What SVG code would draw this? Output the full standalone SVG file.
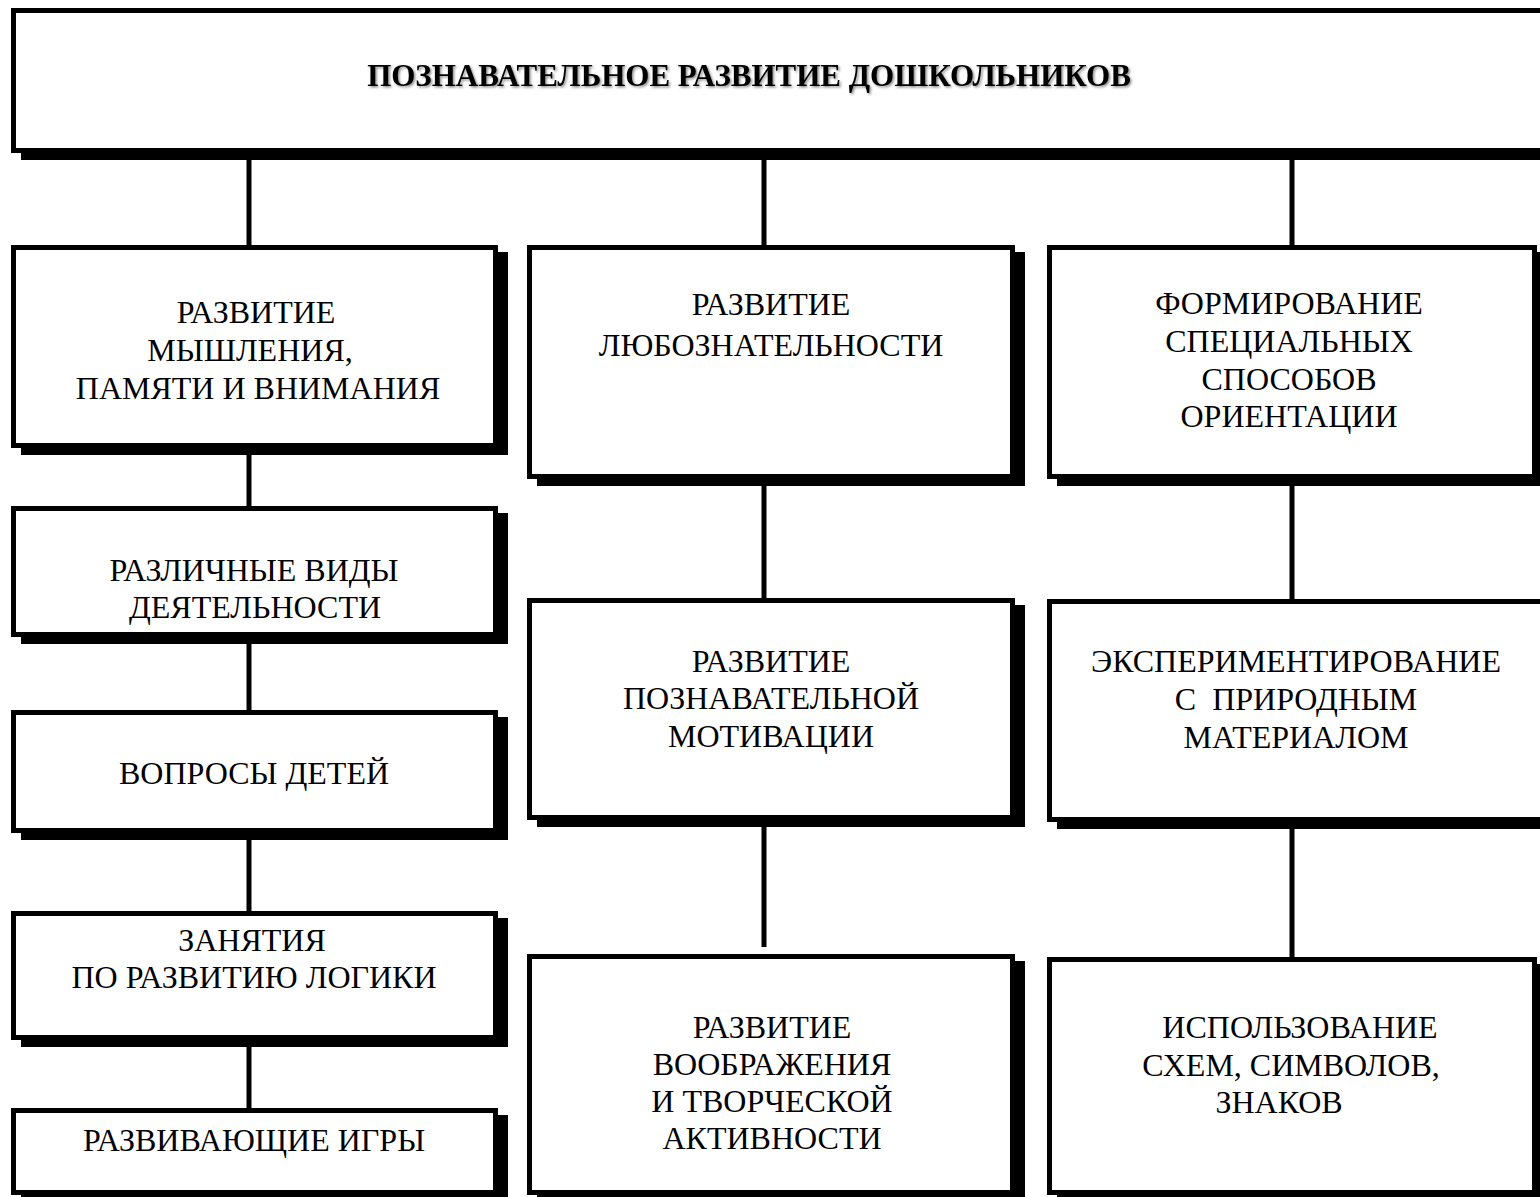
<svg xmlns="http://www.w3.org/2000/svg" width="1540" height="1197" viewBox="0 0 1540 1197">
<defs>
<filter id="tsh" x="-5%" y="-30%" width="110%" height="160%">
<feDropShadow dx="1.5" dy="1.5" stdDeviation="0.8" flood-color="#000" flood-opacity="0.45"/>
</filter>
</defs>
<style>
.sh{fill:#000}
.bx{fill:#fff;stroke:#000;stroke-width:5}
.t{font-family:"Liberation Serif","Times New Roman",serif;font-size:32px;text-anchor:middle;fill:#000}
.ti{font-family:"Liberation Serif","Times New Roman",serif;font-size:31px;font-weight:bold;text-anchor:middle;fill:#000}
.c{stroke:#000;stroke-width:5;fill:none}
</style>
<rect width="1540" height="1197" fill="#fff"/>
<g id="connectors">
<line class="c" x1="249" y1="153" x2="249" y2="245"/>
<line class="c" x1="764" y1="153" x2="764" y2="245"/>
<line class="c" x1="1292" y1="153" x2="1292" y2="245"/>
<line class="c" x1="249" y1="448" x2="249" y2="506"/>
<line class="c" x1="249" y1="637" x2="249" y2="710"/>
<line class="c" x1="249" y1="833" x2="249" y2="911"/>
<line class="c" x1="249" y1="1040" x2="249" y2="1108"/>
<line class="c" x1="764" y1="479" x2="764" y2="598"/>
<line class="c" x1="764" y1="820" x2="764" y2="947"/>
<line class="c" x1="1292" y1="479" x2="1292" y2="599"/>
<line class="c" x1="1292" y1="822" x2="1292" y2="957"/>
</g>
<g id="root">
<rect class="sh" x="21" y="15" width="1540" height="145"/>
<rect class="bx" x="13.5" y="10.5" width="1535" height="140"/>
<text class="ti" x="749" y="86" filter="url(#tsh)">ПОЗНАВАТЕЛЬНОЕ РАЗВИТИЕ ДОШКОЛЬНИКОВ</text>
</g>
<g id="l1">
<rect class="sh" x="21" y="252" width="487" height="203"/>
<rect class="bx" x="13.5" y="247.5" width="482" height="198"/>
<text class="t" x="256" y="323">РАЗВИТИЕ</text>
<text class="t" x="250" y="361">МЫШЛЕНИЯ,</text>
<text class="t" x="258" y="399">ПАМЯТИ И ВНИМАНИЯ</text>
</g>
<g id="l2">
<rect class="sh" x="21" y="513" width="487" height="131"/>
<rect class="bx" x="13.5" y="508.5" width="482" height="126"/>
<text class="t" x="254" y="581">РАЗЛИЧНЫЕ ВИДЫ</text>
<text class="t" x="255" y="618">ДЕЯТЕЛЬНОСТИ</text>
</g>
<g id="l3">
<rect class="sh" x="21" y="717" width="487" height="123"/>
<rect class="bx" x="13.5" y="712.5" width="482" height="118"/>
<text class="t" x="254" y="784">ВОПРОСЫ ДЕТЕЙ</text>
</g>
<g id="l4">
<rect class="sh" x="21" y="918" width="487" height="129"/>
<rect class="bx" x="13.5" y="913.5" width="482" height="124"/>
<text class="t" x="252" y="951">ЗАНЯТИЯ</text>
<text class="t" x="254" y="988">ПО РАЗВИТИЮ ЛОГИКИ</text>
</g>
<g id="l5">
<rect class="sh" x="21" y="1115" width="487" height="87"/>
<rect class="bx" x="13.5" y="1110.5" width="482" height="82"/>
<text class="t" x="254" y="1151">РАЗВИВАЮЩИЕ ИГРЫ</text>
</g>
<g id="m1">
<rect class="sh" x="537" y="252" width="488" height="234"/>
<rect class="bx" x="529.5" y="247.5" width="483" height="229"/>
<text class="t" x="771" y="315">РАЗВИТИЕ</text>
<text class="t" x="771" y="356">ЛЮБОЗНАТЕЛЬНОСТИ</text>
</g>
<g id="m2">
<rect class="sh" x="537" y="605" width="488" height="222"/>
<rect class="bx" x="529.5" y="600.5" width="483" height="217"/>
<text class="t" x="771" y="672">РАЗВИТИЕ</text>
<text class="t" x="771" y="709">ПОЗНАВАТЕЛЬНОЙ</text>
<text class="t" x="771" y="747">МОТИВАЦИИ</text>
</g>
<g id="m3">
<rect class="sh" x="537" y="961" width="488" height="241"/>
<rect class="bx" x="529.5" y="956.5" width="483" height="236"/>
<text class="t" x="772" y="1038">РАЗВИТИЕ</text>
<text class="t" x="772" y="1075">ВООБРАЖЕНИЯ</text>
<text class="t" x="772" y="1112">И ТВОРЧЕСКОЙ</text>
<text class="t" x="772" y="1149">АКТИВНОСТИ</text>
</g>
<g id="r1">
<rect class="sh" x="1057" y="252" width="490" height="234"/>
<rect class="bx" x="1049.5" y="247.5" width="485" height="229"/>
<text class="t" x="1289" y="314">ФОРМИРОВАНИЕ</text>
<text class="t" x="1289" y="352">СПЕЦИАЛЬНЫХ</text>
<text class="t" x="1289" y="390">СПОСОБОВ</text>
<text class="t" x="1289" y="427">ОРИЕНТАЦИИ</text>
</g>
<g id="r2">
<rect class="sh" x="1057" y="606" width="500" height="223"/>
<rect class="bx" x="1049.5" y="601.5" width="495" height="218"/>
<text class="t" x="1296" y="672">ЭКСПЕРИМЕНТИРОВАНИЕ</text>
<text class="t" x="1296" y="710" xml:space="preserve">С  ПРИРОДНЫМ</text>
<text class="t" x="1296" y="748">МАТЕРИАЛОМ</text>
</g>
<g id="r3">
<rect class="sh" x="1057" y="964" width="490" height="238"/>
<rect class="bx" x="1049.5" y="959.5" width="485" height="233"/>
<text class="t" x="1300" y="1038">ИСПОЛЬЗОВАНИЕ</text>
<text class="t" x="1291" y="1076">СХЕМ, СИМВОЛОВ,</text>
<text class="t" x="1279" y="1113">ЗНАКОВ</text>
</g>
</svg>
